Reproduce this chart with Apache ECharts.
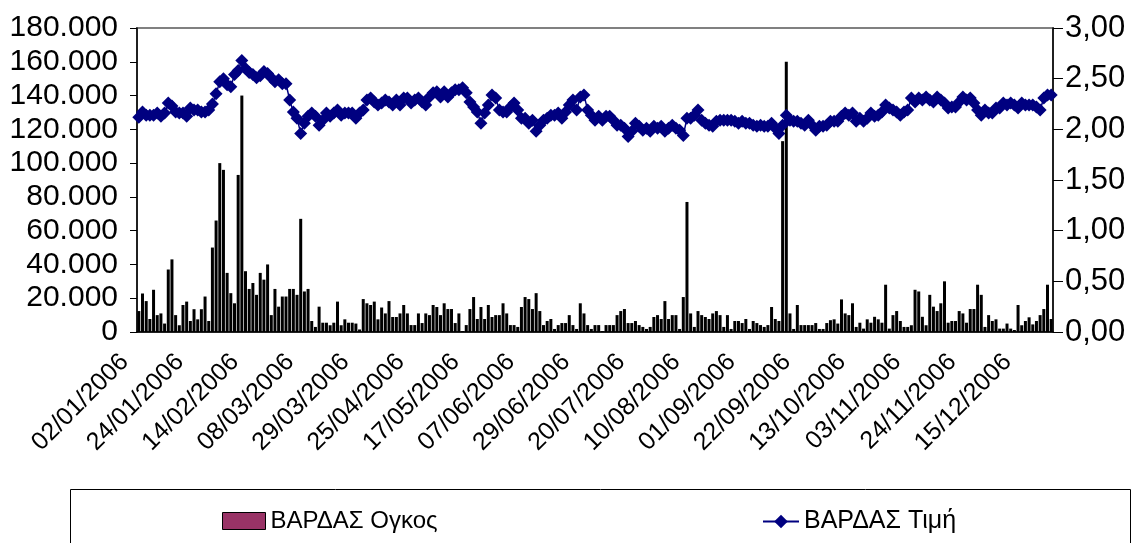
<!DOCTYPE html>
<html lang="el">
<head>
<meta charset="UTF-8">
<title>ΒΑΡΔΑΣ</title>
<script src="https://cdn.jsdelivr.net/npm/echarts@6/dist/echarts.min.js"></script>
<style>
html,body{margin:0;padding:0;background:#fff}
#chartBox{width:1136px;height:543px}
</style>
</head>
<body>
<div id="chartBox"></div>
<script>
// trading days of 2006, market closed on these
const holidays = ['2006-01-06','2006-03-06','2006-04-19','2006-04-20','2006-04-21','2006-04-24',
    '2006-05-01','2006-06-12','2006-08-15','2006-12-25','2006-12-26'];

// volume (Ογκος)
const volume = [
    12400,22800,18300,7700,25000,10000,11000,5000,37000,43000,
    10000,4000,16000,18000,6500,13500,7500,13500,21000,6500,
    50000,66000,100000,96000,35000,23000,17000,93000,140000,36000,
    25500,29000,22000,35000,31000,40000,10000,25500,15000,21000,
    21000,25500,25500,22000,67000,24000,25500,6500,3000,15000,
    5500,5500,4000,5500,18000,4000,7500,5500,5500,5000,
    1500,19500,17000,16000,18000,7500,14500,11000,18300,8900,
    8900,11000,16000,11000,4100,4100,11000,5300,11000,10000,
    16000,14800,10000,17000,13600,13600,5300,11000,600,4100,
    13600,20700,7700,14800,7700,16000,8900,10000,10000,17000,
    11000,4100,4100,3000,14800,20700,19500,13600,23000,12400,
    4100,6500,7700,1800,4100,5300,5300,10000,4100,1800,
    17000,11000,4100,1800,4100,4100,600,4100,4100,4100,
    10000,12400,13600,5300,5300,6500,4100,3000,1800,3000,
    8900,10000,7700,18300,7700,10000,10000,1800,20700,77000,
    11000,3000,12400,10000,8900,7700,11000,12400,10000,3000,
    10000,1800,6500,6500,5300,7700,1800,6500,5300,4100,
    3000,4100,14800,7700,6500,113000,160000,11000,1800,16000,
    4100,4100,4100,4100,5300,1800,1800,5300,7000,7500,
    5000,19300,11000,10000,17000,3000,5500,2000,7500,5500,
    9000,7500,5500,28000,2000,10000,12400,6500,3000,3000,
    4000,25000,24000,9000,4000,22000,15000,12400,17000,30000,
    5500,6500,6500,12400,11000,5500,13600,13600,28000,22000,
    3000,10000,6500,7500,2000,2000,5000,2000,1200,16000,
    4000,6500,8700,4500,6500,10000,13600,28000,7700
];

// price (Τιμή)
const price = [
    2.12,2.17,2.14,2.14,2.14,2.16,2.13,2.16,2.26,2.23,
    2.17,2.16,2.16,2.13,2.21,2.19,2.19,2.17,2.17,2.19,
    2.25,2.35,2.47,2.50,2.44,2.42,2.54,2.58,2.68,2.60,
    2.56,2.54,2.51,2.53,2.57,2.55,2.51,2.47,2.49,2.45,
    2.45,2.29,2.17,2.11,1.96,2.06,2.13,2.16,2.13,2.04,
    2.09,2.16,2.13,2.16,2.19,2.14,2.16,2.16,2.16,2.11,
    2.16,2.19,2.29,2.31,2.27,2.24,2.26,2.29,2.27,2.24,
    2.29,2.24,2.31,2.31,2.26,2.29,2.31,2.27,2.24,2.32,
    2.36,2.37,2.32,2.37,2.32,2.36,2.39,2.39,2.41,2.36,
    2.27,2.22,2.17,2.06,2.16,2.24,2.34,2.31,2.19,2.17,
    2.17,2.22,2.26,2.19,2.11,2.11,2.06,2.09,1.98,2.04,
    2.09,2.11,2.14,2.14,2.16,2.11,2.17,2.24,2.29,2.19,
    2.32,2.34,2.19,2.14,2.09,2.13,2.09,2.13,2.13,2.09,
    2.04,2.04,2.01,1.93,1.98,2.06,2.03,1.99,2.01,1.98,
    2.03,2.01,2.03,1.98,2.01,2.04,2.01,1.99,1.94,2.11,
    2.11,2.14,2.19,2.09,2.06,2.04,2.03,2.08,2.09,2.09,
    2.09,2.09,2.08,2.06,2.08,2.06,2.06,2.04,2.03,2.04,
    2.03,2.03,2.06,2.01,1.96,2.04,2.14,2.09,2.08,2.08,
    2.06,2.04,2.09,2.04,1.99,2.03,2.03,2.04,2.08,2.08,
    2.08,2.13,2.16,2.14,2.16,2.08,2.11,2.08,2.11,2.16,
    2.13,2.14,2.17,2.24,2.21,2.19,2.17,2.14,2.17,2.19,
    2.31,2.27,2.31,2.29,2.32,2.29,2.27,2.32,2.29,2.26,
    2.21,2.22,2.22,2.27,2.32,2.29,2.31,2.26,2.19,2.14,
    2.19,2.16,2.16,2.21,2.21,2.26,2.24,2.26,2.24,2.21,
    2.26,2.24,2.24,2.24,2.22,2.19,2.31,2.34,2.34
];

// build the category list (dd/mm/yyyy) from the calendar
function tradingDays() {
    let out = [];
    let d = new Date(Date.UTC(2006, 0, 2));
    while (d.getUTCFullYear() === 2006) {
        let iso = d.toISOString().slice(0, 10);
        let wd = d.getUTCDay();
        if (wd !== 0 && wd !== 6 && holidays.indexOf(iso) < 0) {
            out.push(iso.slice(8, 10) + '/' + iso.slice(5, 7) + '/' + iso.slice(0, 4));
        }
        d.setUTCDate(d.getUTCDate() + 1);
    }
    return out;
}
const dates = tradingDays();

const fontFam = '"Liberation Sans", Arial, sans-serif';

function thousands(v) {
    return String(v).replace(/\B(?=(\d{3})+(?!\d))/g, '.');
}

let chartObj = echarts.init(document.getElementById('chartBox'));
chartObj.setOption({
    animation: false,
    textStyle: {fontFamily: fontFam},
    grid: {
        left: 137, right: 83, top: 28, bottom: 211,
        show: true,
        borderColor: '#808080',
        borderWidth: 2
    },
    xAxis: {
        type: 'category',
        data: dates,
        boundaryGap: true,
        axisLine: {lineStyle: {color: '#000', width: 1.5}},
        axisTick: {interval: 0, length: 5, lineStyle: {color: '#000'}},
        axisLabel: {
            interval: 14,
            rotate: 45,
            margin: 12,
            padding: [0, 20, 0, 0],
            fontSize: 25,
            color: '#000',
            fontFamily: fontFam
        }
    },
    yAxis: [
        {
            type: 'value',
            min: 0, max: 180000, interval: 20000,
            position: 'left',
            splitLine: {show: false},
            axisLine: {show: true, lineStyle: {color: '#000', width: 1.5}},
            axisTick: {show: true, length: 7, lineStyle: {color: '#000'}},
            axisLabel: {
                formatter: thousands,
                fontSize: 30, color: '#000', margin: 19, fontFamily: fontFam
            }
        },
        {
            type: 'value',
            min: 0, max: 3, interval: 0.5,
            position: 'right',
            splitLine: {show: false},
            axisLine: {show: true, lineStyle: {color: '#000', width: 1.5}},
            axisTick: {show: true, length: 10, lineStyle: {color: '#000'}},
            axisLabel: {
                formatter: v => v.toFixed(2).replace('.', ','),
                fontSize: 31, color: '#000', margin: 12, fontFamily: fontFam
            }
        }
    ],
    legend: [
        {
            left: 222, top: 509, padding: 0,
            itemWidth: 43, itemHeight: 17, itemGap: 5,
            textStyle: {fontSize: 24, color: '#000', fontFamily: fontFam},
            data: [{
                name: 'ΒΑΡΔΑΣ Ογκος', icon: 'rect',
                itemStyle: {color: '#993366', borderColor: '#000', borderWidth: 1}
            }]
        },
        {
            left: 762, top: 509, padding: 0,
            itemWidth: 36, itemHeight: 17, itemGap: 4,
            textStyle: {fontSize: 25, color: '#000', fontFamily: fontFam},
            data: [{name: 'ΒΑΡΔΑΣ Τιμή'}]
        }
    ],
    graphic: [{
        type: 'rect',
        left: 68, top: 487,
        shape: {width: 1060, height: 70},
        style: {fill: 'none', stroke: '#000', lineWidth: 1}
    }],
    series: [
        {
            name: 'ΒΑΡΔΑΣ Ογκος',
            type: 'bar',
            yAxisIndex: 0,
            barWidth: 3,
            itemStyle: {color: '#000'},
            data: volume
        },
        {
            name: 'ΒΑΡΔΑΣ Τιμή',
            type: 'line',
            yAxisIndex: 1,
            symbol: 'diamond',
            symbolSize: 13,
            showSymbol: true,
            showAllSymbol: true,
            itemStyle: {color: '#000080'},
            lineStyle: {color: '#000080', width: 1.5},
            data: price
        }
    ]
});
</script>
</body>
</html>
